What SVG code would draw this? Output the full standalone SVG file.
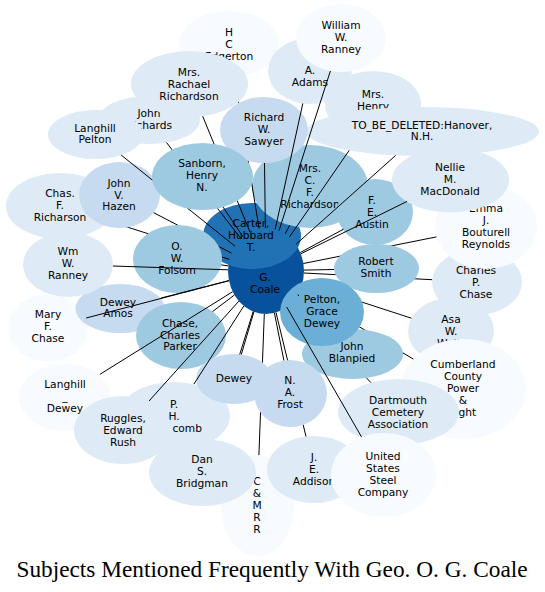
<svg xmlns="http://www.w3.org/2000/svg" width="545" height="592" viewBox="0 0 545 592">
<style>
.c1{fill:#f7fbff}.c2{fill:#deebf7}.c3{fill:#c6dbef}.c4{fill:#9ecae1}.c5{fill:#6baed6}.c7{fill:#2171b5}.c8{fill:#08519c}
.node text{font-family:"DejaVu Sans",Verdana,sans-serif;font-size:10.67px;text-anchor:middle;fill:#000}
#edges line{stroke:#000;stroke-width:1;fill:none}
.title{font-family:"Liberation Serif","Times New Roman",serif;font-size:23.3px;text-anchor:middle;fill:#000}
.k{fill:#000}
</style>
<defs>
<mask id="m-san" maskUnits="userSpaceOnUse" x="0" y="0" width="545" height="592"><rect width="545" height="592" fill="#fff"/><ellipse class="k" cx="202.5" cy="176.5" rx="50.5" ry="33.5"/></mask>
<mask id="m-edg" maskUnits="userSpaceOnUse" x="0" y="0" width="545" height="592"><rect width="545" height="592" fill="#fff"/><ellipse class="k" cx="202.5" cy="176.5" rx="50.5" ry="33.5"/><ellipse class="k" cx="264" cy="130" rx="44" ry="33"/><ellipse class="k" cx="189.5" cy="84" rx="58.5" ry="33"/></mask>
<mask id="m-fol" maskUnits="userSpaceOnUse" x="0" y="0" width="545" height="592"><rect width="545" height="592" fill="#fff"/><ellipse class="k" cx="177.5" cy="259" rx="44.5" ry="34"/></mask>
<mask id="m-chas" maskUnits="userSpaceOnUse" x="0" y="0" width="545" height="592"><rect width="545" height="592" fill="#fff"/><ellipse class="k" cx="177.5" cy="259" rx="44.5" ry="34"/><ellipse class="k" cx="119.5" cy="195" rx="40.5" ry="33"/></mask>
<mask id="m-dan" maskUnits="userSpaceOnUse" x="0" y="0" width="545" height="592"><rect width="545" height="592" fill="#fff"/><ellipse class="k" cx="234" cy="379" rx="38" ry="25"/><ellipse class="k" cx="174" cy="416" rx="56" ry="34"/></mask>
<mask id="m-cmrr" maskUnits="userSpaceOnUse" x="0" y="0" width="545" height="592"><rect width="545" height="592" fill="#fff"/><ellipse class="k" cx="234" cy="379" rx="38" ry="25"/><ellipse class="k" cx="290.5" cy="393.5" rx="36.5" ry="33.5"/></mask>
<mask id="m-fro" maskUnits="userSpaceOnUse" x="0" y="0" width="545" height="592"><rect width="545" height="592" fill="#fff"/><ellipse class="k" cx="290.5" cy="393.5" rx="36.5" ry="33.5"/></mask>
<mask id="m-pb" maskUnits="userSpaceOnUse" x="0" y="0" width="545" height="592"><rect width="545" height="592" fill="#fff"/><ellipse class="k" cx="322" cy="312" rx="42" ry="34"/><ellipse class="k" cx="352.5" cy="354" rx="50.5" ry="25"/></mask>
<mask id="m-pel" maskUnits="userSpaceOnUse" x="0" y="0" width="545" height="592"><rect width="545" height="592" fill="#fff"/><ellipse class="k" cx="322" cy="312" rx="42" ry="34"/></mask>
<mask id="m-smi" maskUnits="userSpaceOnUse" x="0" y="0" width="545" height="592"><rect width="545" height="592" fill="#fff"/><ellipse class="k" cx="376.5" cy="268.5" rx="42.5" ry="24.5"/></mask>
<mask id="m-tbd" maskUnits="userSpaceOnUse" x="0" y="0" width="545" height="592"><rect width="545" height="592" fill="#fff"/><ellipse class="k" cx="422.5" cy="131.5" rx="116.5" ry="24.5"/></mask>
</defs>
<rect width="545" height="592" fill="#fff"/>
<g id="nodes">
<g id="n-edgerton" class="node"><ellipse class="c1" cx="229" cy="44" rx="50" ry="33"/><text><tspan x="229" y="36.2">H</tspan><tspan x="229" y="48">C</tspan><tspan x="229" y="59.8">Edgerton</tspan></text></g>
<g id="n-adams" class="node"><ellipse class="c2" cx="310" cy="71" rx="42" ry="33"/><text><tspan x="310" y="74">A.</tspan><tspan x="310" y="85.8">Adams</tspan></text></g>
<g id="n-william-ranney" class="node"><ellipse class="c1" cx="341" cy="38" rx="45" ry="34"/><text><tspan x="341" y="29.3">William</tspan><tspan x="341" y="41.1">W.</tspan><tspan x="341" y="52.9">Ranney</tspan></text></g>
<g id="n-henry" class="node"><ellipse class="c2" cx="373" cy="104" rx="48" ry="33"/><text><tspan x="373" y="98">Mrs.</tspan><tspan x="373" y="110">Henry</tspan></text></g>
<g id="n-hanover" class="node"><ellipse class="c2" cx="422.5" cy="131.5" rx="116.5" ry="24.5"/><text><tspan x="422" y="128.6">TO_BE_DELETED:Hanover,</tspan><tspan x="422" y="140.4">N.H.</tspan></text></g>
<g id="n-john-richards" class="node"><ellipse class="c2" cx="149" cy="120" rx="51" ry="24"/><text><tspan x="149" y="117">John</tspan><tspan x="149" y="128.8">Richards</tspan></text></g>
<g id="n-rachael" class="node"><ellipse class="c2" cx="189.5" cy="84" rx="58.5" ry="33"/><text><tspan x="189" y="76.2">Mrs.</tspan><tspan x="189" y="88">Rachael</tspan><tspan x="189" y="99.8">Richardson</tspan></text></g>
<g id="n-langhill-pelton" class="node"><ellipse class="c2" cx="95.5" cy="134.5" rx="47.5" ry="24.5"/><text><tspan x="95" y="131.6">Langhill</tspan><tspan x="95" y="143.4">Pelton</tspan></text></g>
<g id="n-coale" class="node"><ellipse class="c8" cx="266" cy="271" rx="38" ry="43"/><text><tspan x="265" y="280.9">G.</tspan><tspan x="265" y="292.7">Coale</tspan></text></g>
<g id="n-carter" class="node"><ellipse class="c7" cx="252" cy="236" rx="49" ry="33"/><text><tspan x="251" y="227.2">Carter,</tspan><tspan x="251" y="239">Hubbard</tspan><tspan x="251" y="250.8">T.</tspan></text></g>
<g id="n-cf-richardson" class="node"><ellipse class="c4" cx="310" cy="186.5" rx="58" ry="41.5"/><text><tspan x="310" y="172.3">Mrs.</tspan><tspan x="310" y="184.1">C.</tspan><tspan x="310" y="195.9">F.</tspan><tspan x="310" y="207.7">Richardson</tspan></text></g>
<g id="n-sawyer" class="node"><ellipse class="c3" cx="264" cy="130" rx="44" ry="33"/><text><tspan x="264" y="121.2">Richard</tspan><tspan x="264" y="133">W.</tspan><tspan x="264" y="144.8">Sawyer</tspan></text></g>
<g id="n-chas-richarson" class="node"><ellipse class="c2" cx="60" cy="206" rx="54" ry="33"/><text><tspan x="60" y="197.2">Chas.</tspan><tspan x="60" y="209">F.</tspan><tspan x="60" y="220.8">Richarson</tspan></text></g>
<g id="n-hazen" class="node"><ellipse class="c3" cx="119.5" cy="195" rx="40.5" ry="33"/><text><tspan x="119" y="186.7">John</tspan><tspan x="119" y="198.5">V.</tspan><tspan x="119" y="210.3">Hazen</tspan></text></g>
<g id="n-sanborn" class="node"><ellipse class="c4" cx="202.5" cy="176.5" rx="50.5" ry="33.5"/><text><tspan x="202" y="167.2">Sanborn,</tspan><tspan x="202" y="179">Henry</tspan><tspan x="202" y="190.8">N.</tspan></text></g>
<g id="n-folsom" class="node"><ellipse class="c4" cx="177.5" cy="259" rx="44.5" ry="34"/><text><tspan x="177" y="250.2">O.</tspan><tspan x="177" y="262">W.</tspan><tspan x="177" y="273.8">Folsom</tspan></text></g>
<g id="n-charles-chase" class="node"><ellipse class="c2" cx="477" cy="282" rx="45" ry="33"/><text><tspan x="476" y="274.2">Charles</tspan><tspan x="476" y="286">P.</tspan><tspan x="476" y="297.8">Chase</tspan></text></g>
<g id="n-emma" class="node"><ellipse class="c1" cx="486" cy="227" rx="51" ry="42"/><text><tspan x="486" y="212.3">Emma</tspan><tspan x="486" y="224.1">J.</tspan><tspan x="486" y="235.9">Bouturell</tspan><tspan x="486" y="247.7">Reynolds</tspan></text></g>
<g id="n-austin" class="node"><ellipse class="c4" cx="375" cy="212" rx="38" ry="33"/><text><tspan x="372" y="204.2">F.</tspan><tspan x="372" y="216">E.</tspan><tspan x="372" y="227.8">Austin</tspan></text></g>
<g id="n-nellie" class="node"><ellipse class="c2" cx="450.5" cy="180" rx="58.5" ry="32.5"/><text><tspan x="450" y="171.2">Nellie</tspan><tspan x="450" y="183">M.</tspan><tspan x="450" y="194.8">MacDonald</tspan></text></g>
<g id="n-robert-smith" class="node"><ellipse class="c4" cx="376.5" cy="268.5" rx="42.5" ry="24.5"/><text><tspan x="376" y="265.1">Robert</tspan><tspan x="376" y="276.9">Smith</tspan></text></g>
<g id="n-mary-chase" class="node"><ellipse class="c1" cx="48" cy="328" rx="40" ry="33.5"/><text><tspan x="48" y="318.2">Mary</tspan><tspan x="48" y="330">F.</tspan><tspan x="48" y="341.8">Chase</tspan></text></g>
<g id="n-dewey-amos" class="node"><ellipse class="c3" cx="120" cy="308.5" rx="44.5" ry="24.5"/><text><tspan x="118" y="305.6">Dewey</tspan><tspan x="118" y="317.4">Amos</tspan></text></g>
<g id="n-wm-ranney" class="node"><ellipse class="c2" cx="68" cy="264.5" rx="45" ry="32.5"/><text><tspan x="68" y="255.2">Wm</tspan><tspan x="68" y="267">W.</tspan><tspan x="68" y="278.8">Ranney</tspan></text></g>
<g id="n-chase-parker" class="node"><ellipse class="c4" cx="181" cy="335.5" rx="45" ry="33.5"/><text><tspan x="180" y="326.7">Chase,</tspan><tspan x="180" y="338.5">Charles</tspan><tspan x="180" y="350.3">Parker</tspan></text></g>
<g id="n-blanpied" class="node"><ellipse class="c4" cx="352.5" cy="354" rx="50.5" ry="25"/><text><tspan x="352" y="350.1">John</tspan><tspan x="352" y="361.9">Blanpied</tspan></text></g>
<g id="n-pelton-grace" class="node"><ellipse class="c5" cx="322" cy="312" rx="42" ry="34"/><text><tspan x="322" y="303.2">Pelton,</tspan><tspan x="322" y="315">Grace</tspan><tspan x="322" y="326.8">Dewey</tspan></text></g>
<g id="n-asa" class="node"><ellipse class="c2" cx="451" cy="331" rx="43" ry="33"/><text><tspan x="451" y="322.5">Asa</tspan><tspan x="451" y="334.8">W.</tspan><tspan x="451" y="347">Wells</tspan></text></g>
<g id="n-cumberland" class="node"><ellipse class="c1" cx="463.5" cy="389" rx="62.5" ry="50"/><text><tspan x="463" y="368.4">Cumberland</tspan><tspan x="463" y="380.2">County</tspan><tspan x="463" y="392">Power</tspan><tspan x="463" y="403.8">&amp;</tspan><tspan x="463" y="415.6">Light</tspan></text></g>
<g id="n-dartmouth" class="node"><ellipse class="c2" cx="398.5" cy="412" rx="60.5" ry="33"/><text><tspan x="398" y="404.2">Dartmouth</tspan><tspan x="398" y="416">Cemetery</tspan><tspan x="398" y="427.8">Association</tspan></text></g>
<g id="n-cmrr" class="node"><ellipse class="c1" cx="257.5" cy="505.5" rx="36.5" ry="50.5"/><text><tspan x="257" y="485.4">C</tspan><tspan x="257" y="497.2">&amp;</tspan><tspan x="257" y="509">M</tspan><tspan x="257" y="520.8">R</tspan><tspan x="257" y="532.6">R</tspan></text></g>
<g id="n-addison" class="node"><ellipse class="c2" cx="314" cy="469.5" rx="47" ry="33.5"/><text><tspan x="314" y="461.2">J.</tspan><tspan x="314" y="473">E.</tspan><tspan x="314" y="484.8">Addison</tspan></text></g>
<g id="n-us-steel" class="node"><ellipse class="c1" cx="383.5" cy="475" rx="52.5" ry="42"/><text><tspan x="383" y="460.3">United</tspan><tspan x="383" y="472.1">States</tspan><tspan x="383" y="483.9">Steel</tspan><tspan x="383" y="495.7">Company</tspan></text></g>
<g id="n-langhill-dewey" class="node"><ellipse class="c1" cx="65" cy="397.5" rx="46" ry="33.5"/><text><tspan x="65" y="388.2">Langhill</tspan><tspan x="65" y="400">_</tspan><tspan x="65" y="411.8">Dewey</tspan></text></g>
<g id="n-ph-comb" class="node"><ellipse class="c2" cx="174" cy="416" rx="56" ry="34"/><text><tspan x="174" y="408.2">P.</tspan><tspan x="174" y="420">H.</tspan><tspan x="187.2" y="431.8">comb</tspan></text></g>
<g id="n-ruggles" class="node"><ellipse class="c2" cx="123" cy="430" rx="49" ry="34"/><text><tspan x="123" y="422.2">Ruggles,</tspan><tspan x="123" y="434">Edward</tspan><tspan x="123" y="445.8">Rush</tspan></text></g>
<g id="n-dewey" class="node"><ellipse class="c3" cx="234" cy="379" rx="38" ry="25"/><text><tspan x="234" y="382">Dewey</tspan></text></g>
<g id="n-frost" class="node"><ellipse class="c3" cx="290.5" cy="393.5" rx="36.5" ry="33.5"/><text><tspan x="290" y="384.2">N.</tspan><tspan x="290" y="396">A.</tspan><tspan x="290" y="407.8">Frost</tspan></text></g>
<g id="n-dan" class="node"><ellipse class="c2" cx="202.5" cy="472.5" rx="53.5" ry="33.5"/><text><tspan x="202" y="463.2">Dan</tspan><tspan x="202" y="475">S.</tspan><tspan x="202" y="486.8">Bridgman</tspan></text></g>
</g>
<g id="edges">
<line id="e-edgerton" x1="259.1" y1="228.7" x2="234.4" y2="76.8" mask="url(#m-edg)"/>
<line id="e-rachael" x1="250" y1="232" x2="202.7" y2="116.2" mask="url(#m-san)"/>
<line id="e-john-richards" x1="241" y1="238.7" x2="166.5" y2="142.5" mask="url(#m-san)"/>
<line id="e-langhill-pelton" x1="235" y1="246.2" x2="121.2" y2="155.1" mask="url(#m-san)"/>
<line id="e-sanborn" x1="243" y1="236.8" x2="223.1" y2="207.1"/>
<line id="e-hazen" x1="231.5" y1="253.1" x2="153.7" y2="212.7" mask="url(#m-fol)"/>
<line id="e-chas" x1="229.4" y1="259.4" x2="108" y2="221" mask="url(#m-chas)"/>
<line id="e-wm-ranney" x1="228" y1="269.8" x2="113" y2="266"/>
<line id="e-folsom" x1="228.3" y1="265.9" x2="221.3" y2="264.9"/>
<line id="e-dewey-amos" x1="229" y1="280.6" x2="160.8" y2="298.1"/>
<line id="e-mary-chase" x1="229" y1="280.7" x2="86.2" y2="318"/>
<line id="e-chase-parker" x1="234.4" y1="295" x2="212.5" y2="311.6"/>
<line id="e-langhill-dewey" x1="232.7" y1="291.7" x2="99.8" y2="374.4"/>
<line id="e-ruggles" x1="238.9" y1="301.1" x2="149" y2="401"/>
<line id="e-ph-comb" x1="243.8" y1="306" x2="194" y2="384"/>
<line id="e-dewey" x1="253.9" y1="311.8" x2="241.3" y2="354.5"/>
<line id="e-dan" x1="253.2" y1="311.5" x2="212.9" y2="439.7" mask="url(#m-dan)"/>
<line id="e-cmrr" x1="264.3" y1="314" x2="258.9" y2="455.1" mask="url(#m-cmrr)"/>
<line id="e-frost" x1="274.4" y1="312.9" x2="283.9" y2="360.5"/>
<line id="e-addison" x1="276" y1="312.5" x2="306" y2="436.5" mask="url(#m-fro)"/>
<line id="e-us-steel" x1="286.7" y1="307" x2="361.5" y2="436.9"/>
<line id="e-dartmouth" x1="293.7" y1="300.5" x2="370.9" y2="382.6" mask="url(#m-pb)"/>
<line id="e-cumberland" x1="299.6" y1="291.1" x2="413.4" y2="359.1" mask="url(#m-pb)"/>
<line id="e-asa" x1="302.5" y1="282.8" x2="411.4" y2="318.2" mask="url(#m-pel)"/>
<line id="e-pelton-grace" x1="298" y1="294.5" x2="298.7" y2="296"/>
<line id="e-robert-smith" x1="304" y1="270.1" x2="334" y2="269.5"/>
<line id="e-charles-chase" x1="304" y1="273" x2="432.1" y2="279.7" mask="url(#m-smi)"/>
<line id="e-emma" x1="303.4" y1="263.5" x2="436.4" y2="236.9" mask="url(#m-smi)"/>
<line id="e-austin" x1="300.3" y1="252.5" x2="343.5" y2="229.2"/>
<line id="e-nellie" x1="300.8" y1="253.8" x2="407.1" y2="201.4"/>
<line id="e-hanover" x1="295.9" y1="244.4" x2="395.7" y2="155.4"/>
<line id="e-henry" x1="289.4" y1="237.1" x2="350.8" y2="148" mask="url(#m-tbd)"/>
<line id="e-william-ranney" x1="279" y1="230.6" x2="330.4" y2="71"/>
<line id="e-adams" x1="275.2" y1="229.3" x2="302.8" y2="103.5"/>
<line id="e-sawyer" x1="265.4" y1="228" x2="264.5" y2="163"/>
<line id="e-cf-richardson" x1="285.2" y1="233.9" x2="289.6" y2="225.3"/>
</g>
<text class="title" x="272" y="577">Subjects Mentioned Frequently With Geo. O. G. Coale</text>
</svg>
